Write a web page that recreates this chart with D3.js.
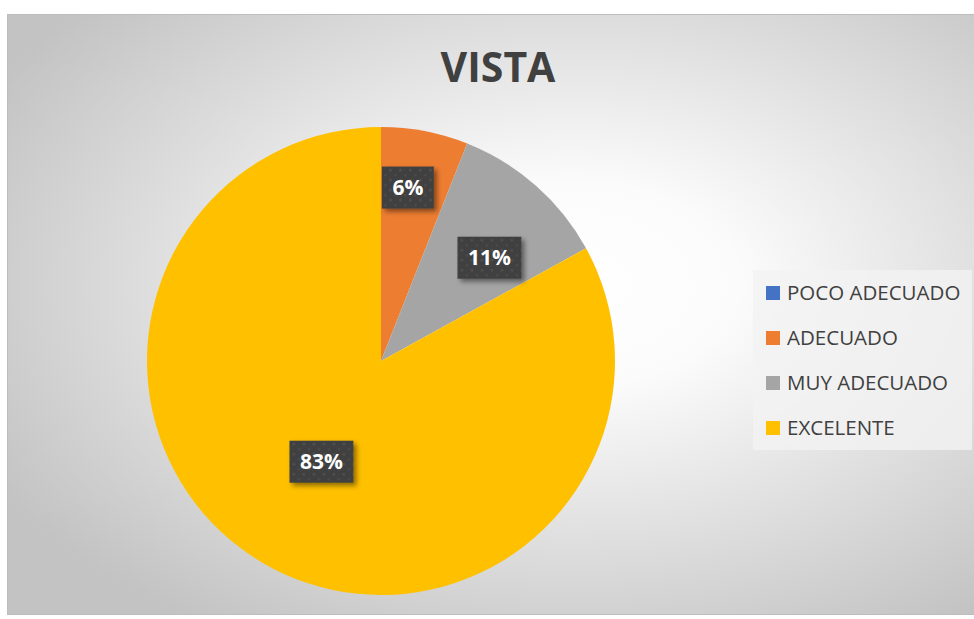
<!DOCTYPE html>
<html>
<head>
<meta charset="utf-8"/>
<script src="https://d3js.org/d3.v7.min.js"></script>
<title>VISTA</title>
<style type="text/css">
  body { margin: 0; background: #ffffff; }
  svg text { font-family: "Open Sans", "Noto Sans", sans-serif; }
</style>
</head>
<body>
<div id="chart"></div>
<script type="text/javascript">

// chart data (percent of answers)
var title = "VISTA";
var categories = ["POCO ADECUADO", "ADECUADO", "MUY ADECUADO", "EXCELENTE"];
var values = [0, 6, 11, 83];
var colors = ["#4472C4", "#ED7D31", "#A5A5A5", "#FFC000"];

var width = 974, height = 619;
var box = {x: 7, y: 14, w: 975, h: 600};
var cx = 381, cy = 361, radius = 234;
// label placement (excel "best fit"): distance as fraction of radius, and angle nudge in degrees
var labelRadius = [0.7, 0.75, 0.64, 0.5];
var labelNudge = [0, -2, 5, 0];

var svg = d3.select("#chart").append("svg")
    .attr("width", width)
    .attr("height", height);

var defs = svg.append("defs");

// background gradient
var grad = defs.append("radialGradient")
    .attr("id", "bg")
    .attr("cx", "0.58").attr("cy", "0.45")
    .attr("r", "0.68");
grad.append("stop").attr("offset", "0%").attr("stop-color", "#ffffff");
grad.append("stop").attr("offset", "25%").attr("stop-color", "#fbfbfb");
grad.append("stop").attr("offset", "100%").attr("stop-color", "#c3c3c3");

// dotted pattern for the label boxes
var pat = defs.append("pattern")
    .attr("id", "dots")
    .attr("width", 10).attr("height", 10)
    .attr("patternUnits", "userSpaceOnUse");
pat.append("rect").attr("width", 10).attr("height", 10).attr("fill", "#3f3f3f");
pat.append("circle").attr("cx", 2.5).attr("cy", 2.5).attr("r", 1.3).attr("fill", "#555555");
pat.append("circle").attr("cx", 7.5).attr("cy", 7.5).attr("r", 1.3).attr("fill", "#4d4d4d");

var shadow = defs.append("filter").attr("id", "shadow")
    .attr("x", "-30%").attr("y", "-30%").attr("width", "160%").attr("height", "160%");
shadow.append("feDropShadow")
    .attr("dx", 3).attr("dy", 3).attr("stdDeviation", 2.5)
    .attr("flood-color", "#000").attr("flood-opacity", 0.45);

svg.append("rect")
    .attr("x", box.x + 0.5).attr("y", box.y + 0.5)
    .attr("width", box.w).attr("height", box.h)
    .attr("fill", "url(#bg)")
    .attr("stroke", "#bdbdbd");

// title
svg.append("text")
    .attr("x", 498).attr("y", 82)
    .attr("text-anchor", "middle")
    .style("font-size", "41px")
    .style("font-weight", "bold")
    .style("fill", "#404040")
    .text(title);

// pie
var data = categories.map(function(c, i) {
    return {name: c, value: values[i], color: colors[i], lr: labelRadius[i], nudge: labelNudge[i]};
});
var total = d3.sum(values);

var pie = d3.pie().sort(null).value(function(d) { return d.value; });
var arc = d3.arc().innerRadius(0).outerRadius(radius);

var g = svg.append("g").attr("transform", "translate(" + cx + "," + cy + ")");
var arcs = pie(data);

g.selectAll("path.slice")
    .data(arcs)
    .enter().append("path")
    .attr("class", "slice")
    .attr("d", arc)
    .attr("fill", function(d) { return d.data.color; });

// data labels
var labels = g.selectAll("g.lbl")
    .data(arcs.filter(function(d) { return d.data.value > 0; }))
    .enter().append("g")
    .attr("class", "lbl")
    .attr("transform", function(d) {
        var a = (d.startAngle + d.endAngle) / 2 + d.data.nudge * Math.PI / 180;
        var r = radius * d.data.lr;
        return "translate(" + (r * Math.sin(a)) + "," + (-r * Math.cos(a)) + ")";
    });

labels.each(function(d) {
    var sel = d3.select(this);
    var txt = Math.round(d.data.value / total * 100) + "%";
    var t = sel.append("text")
        .attr("text-anchor", "middle")
        .attr("dy", "0.36em")
        .style("font-size", "21px")
        .style("font-weight", "bold")
        .style("fill", "#ffffff")
        .text(txt);
    var w = t.node().getComputedTextLength() + 21;
    sel.insert("rect", "text")
        .attr("x", -w / 2).attr("y", -21)
        .attr("width", w).attr("height", 42)
        .attr("fill", "url(#dots)")
        .attr("filter", "url(#shadow)");
});

// legend
svg.append("rect")
    .attr("x", 753).attr("y", 270)
    .attr("width", 219).attr("height", 180)
    .attr("fill", "#f2f2f2")
    .attr("opacity", 0.8);

var leg = svg.selectAll("g.leg")
    .data(data)
    .enter().append("g")
    .attr("class", "leg")
    .attr("transform", function(d, i) { return "translate(766," + (286 + i * 45) + ")"; });

leg.append("rect")
    .attr("width", 14).attr("height", 14)
    .attr("fill", function(d) { return d.color; });

leg.append("text")
    .attr("x", 21).attr("y", 7)
    .attr("dy", "0.36em")
    .style("font-size", "20.5px")
    .style("fill", "#404040")
    .text(function(d) { return d.name; });

</script>
</body>
</html>
